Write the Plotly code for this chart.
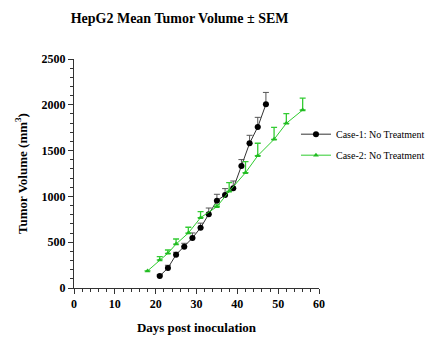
import plotly.graph_objects as go

case1_days = [21, 23, 25, 27, 29, 31, 33, 35, 37, 39, 41, 43, 45, 47]
case1_mean = [131, 218, 364, 451, 546, 658, 805, 953, 1015, 1088, 1332, 1580, 1758, 2005]
case1_sem = [15, 30, 26, 37, 55, 50, 68, 70, 70, 80, 70, 87, 105, 130]

case2_days = [18, 21, 23, 25, 28, 31, 35, 38, 42, 45, 49, 52, 56]
case2_mean = [186, 306, 379, 480, 600, 768, 888, 1055, 1259, 1444, 1623, 1798, 1943]
case2_sem = [0, 36, 36, 55, 63, 65, 20, 95, 120, 136, 130, 105, 130]

font = "Liberation Serif, Times New Roman, serif"

fig = go.Figure()
fig.add_trace(go.Scatter(
    x=case1_days, y=case1_mean, mode="lines+markers",
    name="Case-1: No Treatment", legendgroup="a",
    line=dict(color="#333333", width=1),
    marker=dict(symbol="circle", size=6, color="black"),
    error_y=dict(type="data", symmetric=False, array=case1_sem,
                 arrayminus=[0] * len(case1_sem), color="#555555",
                 thickness=1, width=3),
))
fig.add_trace(go.Scatter(
    x=case2_days, y=case2_mean, mode="lines+markers",
    name="Case-2: No Treatment", legendgroup="b",
    line=dict(color="#2ecc2e", width=1),
    marker=dict(symbol="triangle-up", size=5, color="#22bb22"),
    error_y=dict(type="data", symmetric=False, array=case2_sem,
                 arrayminus=[0] * len(case2_sem), color="#33cc33",
                 thickness=1.3, width=3),
))

axis_common = dict(
    showline=True, linecolor="#333333", linewidth=1,
    ticks="outside", ticklen=5, tickcolor="#333333", tickwidth=1,
    showgrid=False, zeroline=False,
    tickfont=dict(family=font, size=12, color="black", weight="bold"),
)

fig.update_layout(
    width=429, height=352,
    margin=dict(l=66, r=118, t=51, b=72, autoexpand=False),
    paper_bgcolor="white", plot_bgcolor="white",
    title=dict(text="<b>HepG2 Mean Tumor Volume ± SEM</b>", x=0.40, xanchor="center",
               y=0.972, yanchor="middle",
               font=dict(family=font, size=14, color="black")),
    xaxis=dict(
        range=[0, 60], tickvals=[0, 10, 20, 30, 40, 50, 60],
        minor=dict(ticks="outside", ticklen=3, dtick=2, tickcolor="#333333"),
        title=dict(text="<b>Days post inoculation</b>", standoff=12,
                   font=dict(family=font, size=13, color="black")),
        **axis_common,
    ),
    yaxis=dict(
        range=[0, 2500], tickvals=[0, 500, 1000, 1500, 2000, 2500],
        minor=dict(ticks="outside", ticklen=3, dtick=100, tickcolor="#333333"),
        title=dict(text="<b>Tumor Volume (mm<sup>3</sup>)</b>", standoff=11,
                   font=dict(family=font, size=13, color="black")),
        **axis_common,
    ),
    legend=dict(x=0.906, y=0.735, xanchor="left", yanchor="top",
                font=dict(family=font, size=10, color="black"),
                bgcolor="rgba(0,0,0,0)", itemwidth=30, tracegroupgap=2),
    showlegend=True,
)

fig.write_html("out.html")
